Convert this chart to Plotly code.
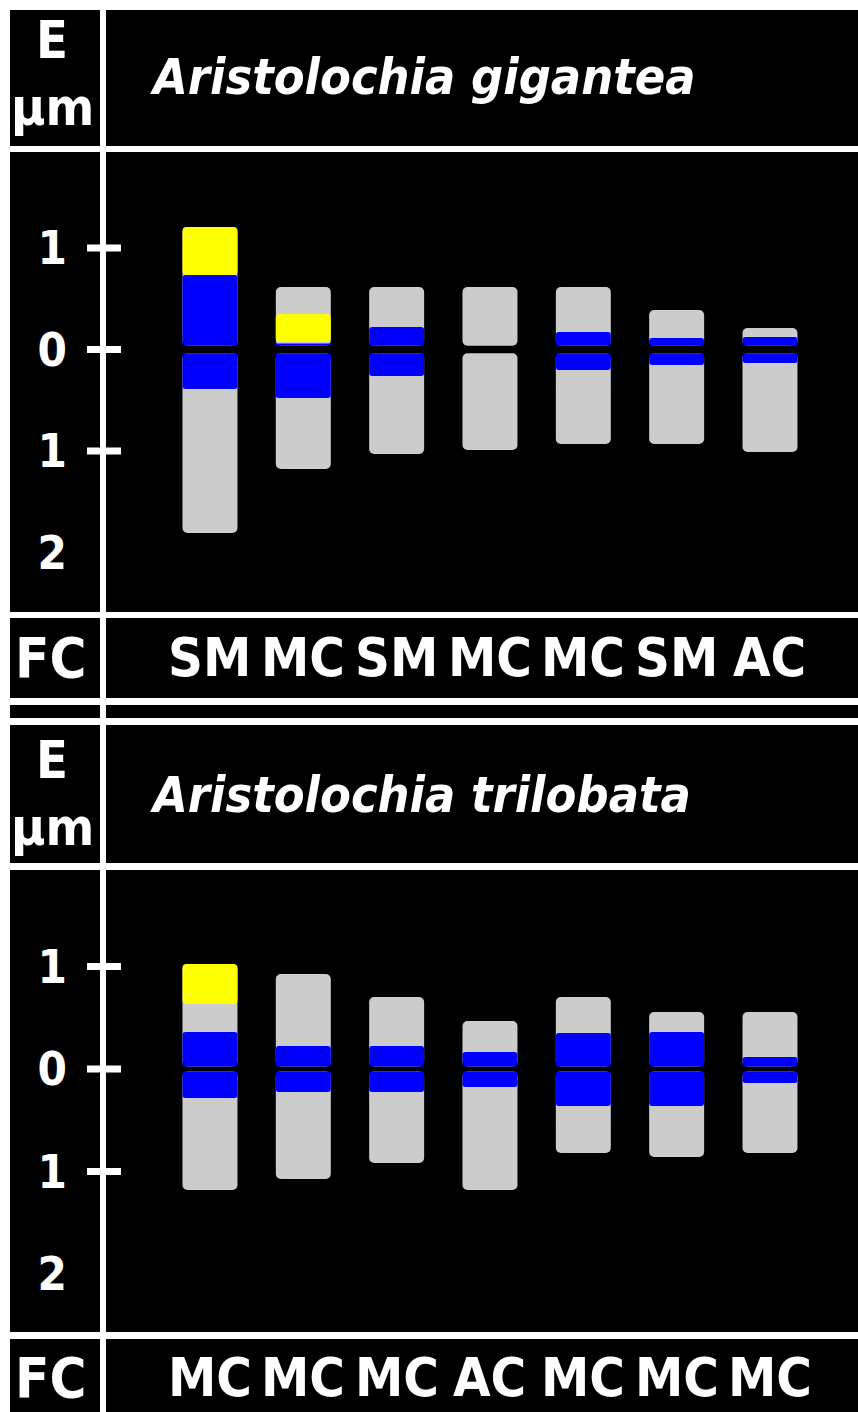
import plotly.graph_objects as go

W, H = 858, 1412

# ---------------- data (µm) ----------------
positions = [0, 1, 2, 3, 4, 5, 6]

# Panel 1: Aristolochia gigantea
gig_title = "Aristolochia gigantea"
gig_fc = ["SM", "MC", "SM", "MC", "MC", "SM", "AC"]
gig_short = [1.207, 0.616, 0.616, 0.616, 0.616, 0.389, 0.212]
gig_long = [1.808, 1.177, 1.030, 0.990, 0.931, 0.931, 1.010]
gig_blue_short = [0.734, 0.060, 0.222, None, 0.172, 0.113, 0.123]
gig_blue_long = [0.389, 0.478, 0.261, None, 0.202, 0.153, 0.133]
gig_yellow_top = [1.207, 0.350, None, None, None, None, None]
gig_yellow_bottom = [0.734, 0.077, None, None, None, None, None]
gig_gap = 0.037

# Panel 2: Aristolochia trilobata
tri_title = "Aristolochia trilobata"
tri_fc = ["MC", "MC", "MC", "AC", "MC", "MC", "MC"]
tri_short = [1.024, 0.927, 0.702, 0.468, 0.702, 0.556, 0.556]
tri_long = [1.180, 1.073, 0.917, 1.180, 0.820, 0.859, 0.820]
tri_blue_short = [0.361, 0.224, 0.224, 0.166, 0.351, 0.361, 0.117]
tri_blue_long = [0.283, 0.224, 0.224, 0.176, 0.361, 0.361, 0.137]
tri_yellow_top = [1.024, None, None, None, None, None, None]
tri_yellow_bottom = [0.634, None, None, None, None, None, None]
tri_gap = 0.025

tick_vals = [1, 0, -1, -2]
tick_text = ["1", "0", "1", "2"]
tick_marks = [1, 0, -1]

# ---------------- style ----------------
GRAY = "#cccccc"
BLUE = "#0000ff"
YELLOW = "#ffff00"
WHITE = "#ffffff"
BLACK = "#000000"
FONT = "DejaVu Sans Condensed, DejaVu Sans, sans-serif"
BAR_W = 0.589


def px_x(p):
    return p / W


def px_y(p):
    return 1 - p / H


fig = go.Figure()


def add_bar(xa, ya, base, heights, color, radius):
    fig.add_trace(go.Bar(
        x=positions, base=base, y=heights, width=BAR_W,
        xaxis=xa, yaxis=ya, hoverinfo="skip", showlegend=False,
        marker=dict(color=color, cornerradius=radius, line=dict(width=0)),
    ))


def add_panel(xa, ya, short, long, bshort, blong, ytop, ybot, gap):
    add_bar(xa, ya, [gap] * 7, [s - gap for s in short], GRAY, 5)
    add_bar(xa, ya, [-gap] * 7, [-(l - gap) for l in long], GRAY, 5)
    add_bar(xa, ya, [gap] * 7,
            [(b - gap) if b is not None else None for b in bshort], BLUE, 3)
    add_bar(xa, ya, [-gap] * 7,
            [-(b - gap) if b is not None else None for b in blong], BLUE, 3)
    add_bar(xa, ya, ybot,
            [(t - b) if t is not None else None for t, b in zip(ytop, ybot)],
            YELLOW, 4)


add_panel("x", "y", gig_short, gig_long, gig_blue_short, gig_blue_long,
          gig_yellow_top, gig_yellow_bottom, gig_gap)
add_panel("x2", "y2", tri_short, tri_long, tri_blue_short, tri_blue_long,
          tri_yellow_top, tri_yellow_bottom, tri_gap)

xrange = [-1.114, 6.943]
xdom = [px_x(106), 1]
yaxis_common = dict(
    showgrid=False, zeroline=False, showline=False, ticks="",
    tickvals=tick_vals, ticktext=tick_text,
    tickfont=dict(family=FONT, size=47, color=WHITE, weight="bold"),
    ticklabelstandoff=38, fixedrange=True,
)

fig.update_layout(
    width=W, height=H,
    margin=dict(l=0, r=0, t=0, b=0),
    paper_bgcolor=BLACK, plot_bgcolor="rgba(0,0,0,0)",
    barmode="overlay",
    xaxis=dict(domain=xdom, range=xrange, visible=False, anchor="y", fixedrange=True),
    yaxis=dict(domain=[px_y(612), px_y(152)],
               range=[-(612 - 349.5) / 101.5, (349.5 - 152) / 101.5],
               anchor="x", **yaxis_common),
    xaxis2=dict(domain=xdom, range=xrange, visible=False, anchor="y2", fixedrange=True),
    yaxis2=dict(domain=[px_y(1332), px_y(870)],
                range=[-(1332 - 1069) / 102.5, (1069 - 870) / 102.5],
                anchor="x2", **yaxis_common),
)

shapes = []
# white outer margins
shapes.append(dict(type="rect", xref="paper", yref="paper", x0=0, x1=px_x(10),
                   y0=0, y1=1, fillcolor=WHITE, line_width=0, layer="above"))
shapes.append(dict(type="rect", xref="paper", yref="paper", x0=0, x1=1,
                   y0=px_y(10), y1=1, fillcolor=WHITE, line_width=0, layer="above"))
# horizontal white rules
for y0, y1 in [(146, 152), (612, 618), (698, 705), (718, 725), (863, 870), (1332, 1339)]:
    shapes.append(dict(type="rect", xref="paper", yref="paper", x0=px_x(10), x1=1,
                       y0=px_y(y1), y1=px_y(y0), fillcolor=WHITE, line_width=0,
                       layer="above"))
# vertical white rule
shapes.append(dict(type="rect", xref="paper", yref="paper", x0=px_x(100), x1=px_x(106),
                   y0=0, y1=px_y(10), fillcolor=WHITE, line_width=0, layer="above"))
# tick marks crossing the vertical rule
for yref in ["y", "y2"]:
    for v in tick_marks:
        shapes.append(dict(type="line", xref="paper", yref=yref,
                           x0=px_x(87), x1=px_x(121), y0=v, y1=v,
                           line=dict(color=WHITE, width=7), layer="above"))
fig.update_layout(shapes=shapes)

ann = []


def txt(text, x, y, size, xanchor="center", italic=False):
    ann.append(dict(text=text, x=px_x(x), y=px_y(y), xref="paper", yref="paper",
                    xanchor=xanchor, yanchor="middle", showarrow=False,
                    font=dict(family=FONT, size=size, color=WHITE, weight="bold",
                              style="italic" if italic else "normal")))


# headers
for (e_y, mu_y, t_y, title) in [(40, 107, 77, gig_title), (760, 827, 795, tri_title)]:
    txt("E", 52, e_y, 52)
    txt("µm", 52, mu_y, 52)
    txt(title, 148, t_y, 50, xanchor="left", italic=True)

# FC rows
x_centers_px = [106 + (p - xrange[0]) / (xrange[1] - xrange[0]) * (W - 106) for p in positions]
for fc, yc in [(gig_fc, 657), (tri_fc, 1377)]:
    txt("FC", 50, yc, 56)
    for lab, xc in zip(fc, x_centers_px):
        txt(lab, xc, yc, 54)

fig.update_layout(annotations=ann)

fig.write_html("out.html",
               config={"displayModeBar": False, "staticPlot": True},
               post_script="document.body.style.margin='0';document.body.style.overflow='hidden';")
